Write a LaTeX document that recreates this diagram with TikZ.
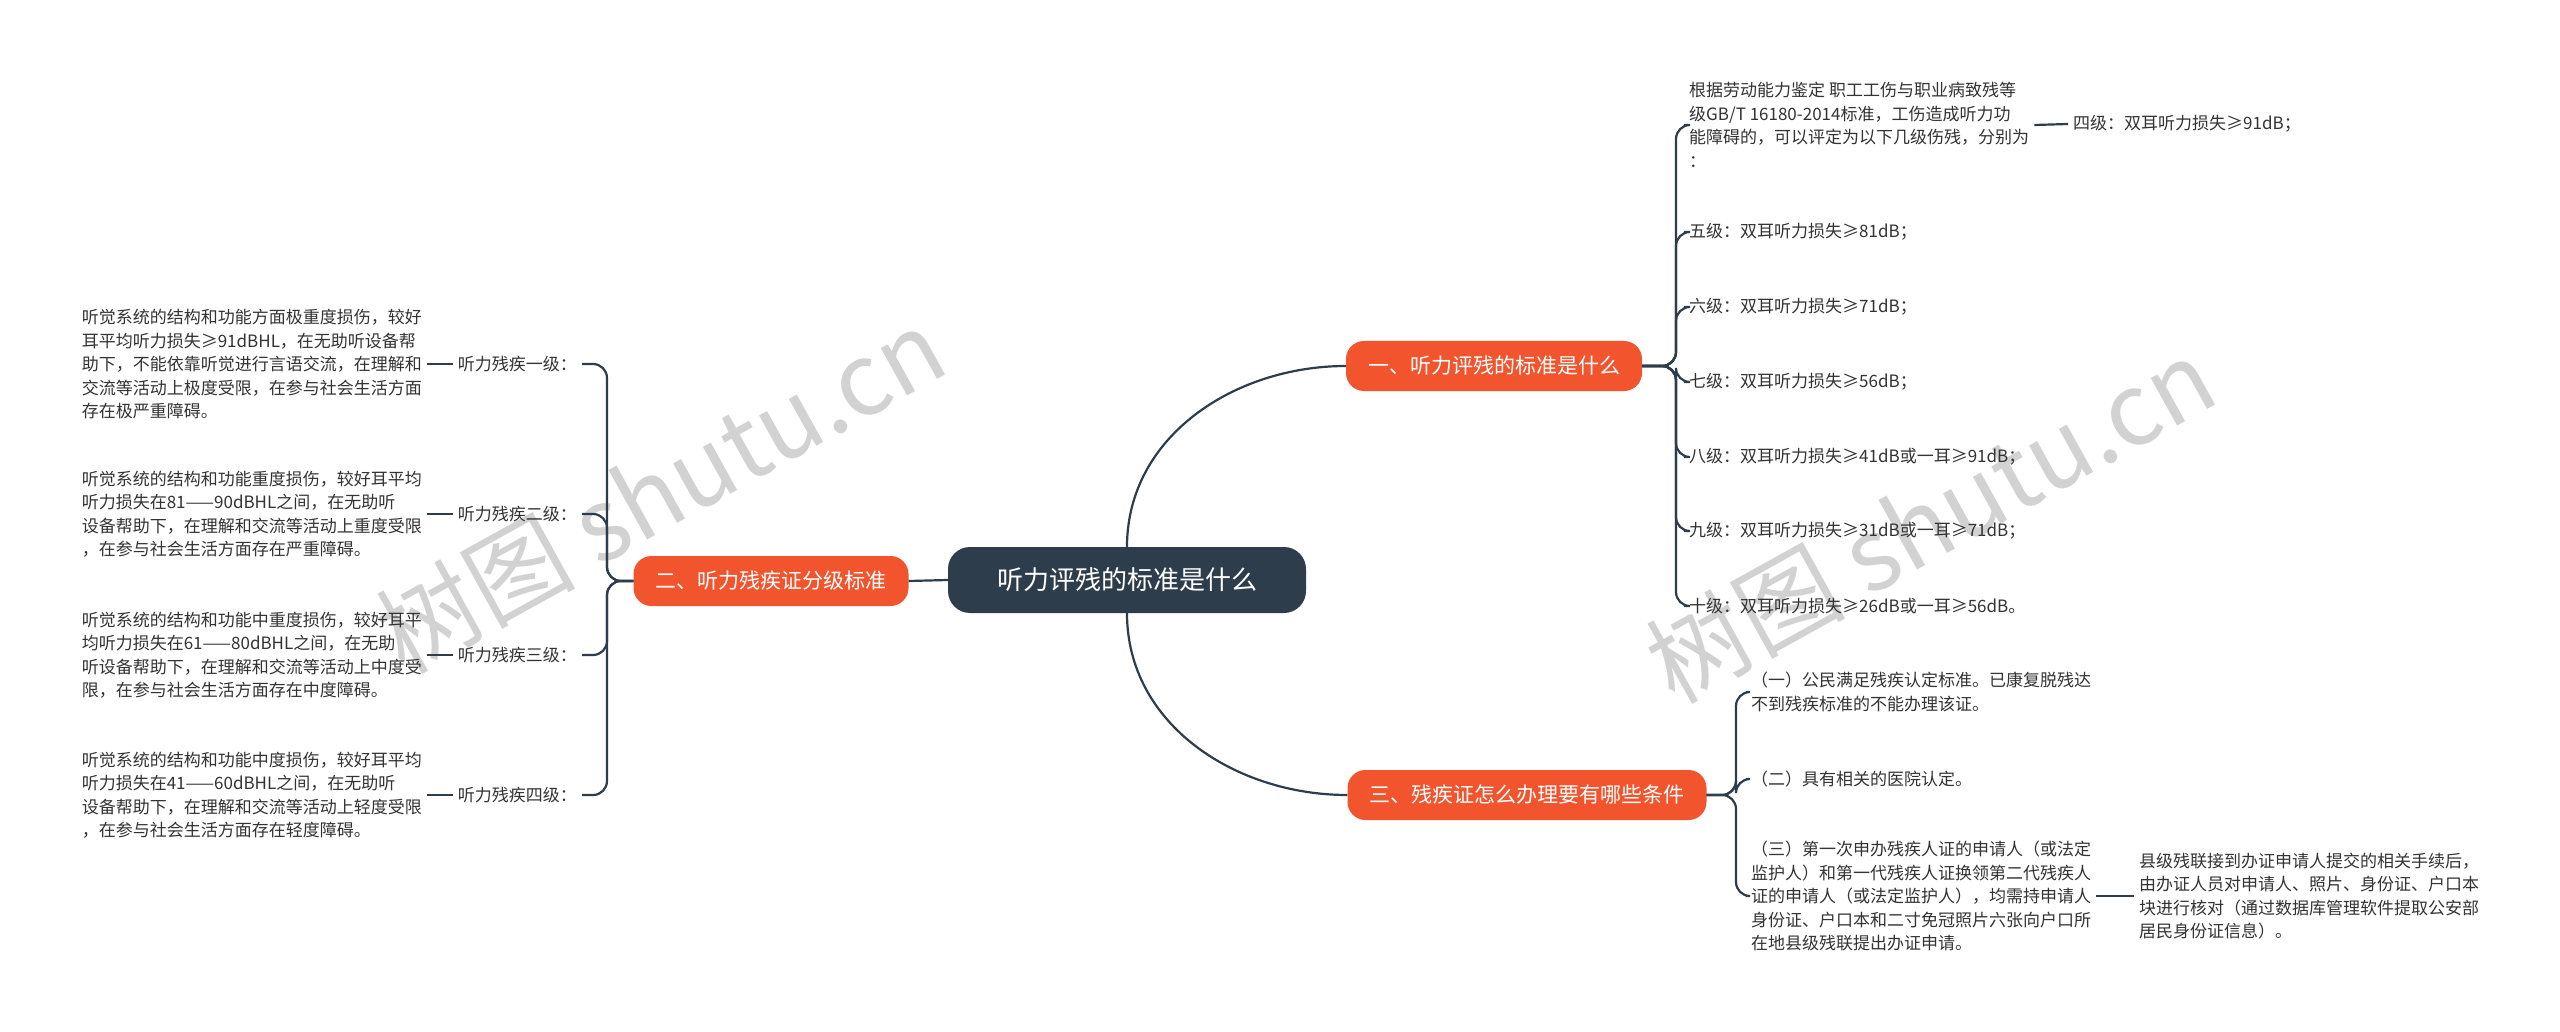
\documentclass[tikz,border=0pt]{standalone}
\usepackage{fontspec}
\setmainfont{Noto Sans CJK SC}
\begin{document}
\begin{tikzpicture}[x=1pt,y=-1pt,
  rootbox/.style={fill=rootc,rounded corners=22,text=white,minimum width=358,minimum height=66,font=\fontsize{26}{30}\selectfont},
  brbox/.style={fill=brc,rounded corners=18,text=white,minimum height=50,inner xsep=22,font=\fontsize{21}{25}\selectfont},
  leaf/.style={anchor=west,align=left,inner sep=5,font=\fontsize{17}{23.5}\selectfont,text=txtc},
  link/.style={draw=rootc,line width=2.2,rounded corners=14},
  wm/.style={text=gray!35,rotate=29,font=\fontsize{100}{100}\selectfont}]
\definecolor{rootc}{HTML}{2E3D4C}
\definecolor{brc}{HTML}{F2542D}
\definecolor{txtc}{HTML}{333333}
\useasboundingbox (0,0) rectangle (2560,1032);
\fill[white] (0,0) rectangle (2560,1032);
\node[wm] (w1) at (660,490) {树图 shutu.cn};
\node[wm] (w2) at (1930,520) {树图 shutu.cn};

\node[rootbox] (root) at (1127,580) {听力评残的标准是什么};
\node[brbox] (b1) at (1494,366) {一、听力评残的标准是什么};
\node[brbox] (b2) at (771,581) {二、听力残疾证分级标准};
\node[brbox] (b3) at (1527,795) {三、残疾证怎么办理要有哪些条件};
\draw[link] (root.north) to[out=90,in=180] (b1.west);
\draw[link] (root.south) to[out=-90,in=180] (b3.west);
\draw[link] (root.west) -- (b2.east);

% branch 1
\coordinate (x1) at (1676,0);
\node[leaf] (a0) at (1684,125) {根据劳动能力鉴定 职工工伤与职业病致残等\\级GB/T 16180-2014标准，工伤造成听力功\\能障碍的，可以评定为以下几级伤残，分别为\\：};
\node[leaf] (a0c) at (2068,124) {四级：双耳听力损失≥91dB；};
\node[leaf] (a1) at (1684,232) {五级：双耳听力损失≥81dB；};
\node[leaf] (a2) at (1684,307) {六级：双耳听力损失≥71dB；};
\node[leaf] (a3) at (1684,382) {七级：双耳听力损失≥56dB；};
\node[leaf] (a4) at (1684,457) {八级：双耳听力损失≥41dB或一耳≥91dB；};
\node[leaf] (a5) at (1684,531) {九级：双耳听力损失≥31dB或一耳≥71dB；};
\node[leaf] (a6) at (1684,606) {十级：双耳听力损失≥26dB或一耳≥56dB。};
\foreach \n in {a0,a1,a2,a3,a4,a5,a6}
  \draw[link] (b1.east) -- (b1.east -| x1) |- (\n.west);
\draw[link] (a0.east) -- (a0c.west);

% branch 2
\coordinate (x2) at (607,0);
\node[leaf,anchor=east] (l1) at (582,364) {听力残疾一级：};
\node[leaf,anchor=east] (l2) at (582,514) {听力残疾二级：};
\node[leaf,anchor=east] (l3) at (582,655) {听力残疾三级：};
\node[leaf,anchor=east] (l4) at (582,795) {听力残疾四级：};
\foreach \n in {l1,l2,l3,l4}
  \draw[link] (b2.west) -- (b2.west -| x2) |- (\n.east);
\node[leaf,anchor=east] (p1) at (427,364) {听觉系统的结构和功能方面极重度损伤，较好\\耳平均听力损失≥91dBHL，在无助听设备帮\\助下，不能依靠听觉进行言语交流，在理解和\\交流等活动上极度受限，在参与社会生活方面\\存在极严重障碍。};
\node[leaf,anchor=east] (p2) at (427,514) {听觉系统的结构和功能重度损伤，较好耳平均\\听力损失在81——90dBHL之间，在无助听\\设备帮助下，在理解和交流等活动上重度受限\\，在参与社会生活方面存在严重障碍。};
\node[leaf,anchor=east] (p3) at (427,655) {听觉系统的结构和功能中重度损伤，较好耳平\\均听力损失在61——80dBHL之间，在无助\\听设备帮助下，在理解和交流等活动上中度受\\限，在参与社会生活方面存在中度障碍。};
\node[leaf,anchor=east] (p4) at (427,795) {听觉系统的结构和功能中度损伤，较好耳平均\\听力损失在41——60dBHL之间，在无助听\\设备帮助下，在理解和交流等活动上轻度受限\\，在参与社会生活方面存在轻度障碍。};
\draw[link] (l1.west) -- (p1.east);
\draw[link] (l2.west) -- (p2.east);
\draw[link] (l3.west) -- (p3.east);
\draw[link] (l4.west) -- (p4.east);

% branch 3
\coordinate (x3) at (1736,0);
\node[leaf] (c1) at (1746,692) {（一）公民满足残疾认定标准。已康复脱残达\\不到残疾标准的不能办理该证。};
\node[leaf] (c2) at (1746,779) {（二）具有相关的医院认定。};
\node[leaf] (c3) at (1746,896) {（三）第一次申办残疾人证的申请人（或法定\\监护人）和第一代残疾人证换领第二代残疾人\\证的申请人（或法定监护人），均需持申请人\\身份证、户口本和二寸免冠照片六张向户口所\\在地县级残联提出办证申请。};
\node[leaf] (c3c) at (2134,896) {县级残联接到办证申请人提交的相关手续后，\\由办证人员对申请人、照片、身份证、户口本\\块进行核对（通过数据库管理软件提取公安部\\居民身份证信息）。};
\foreach \n in {c1,c2,c3}
  \draw[link] (b3.east) -- (b3.east -| x3) |- (\n.west);
\draw[link] (c3.east) -- (c3c.west);
\end{tikzpicture}
\end{document}
